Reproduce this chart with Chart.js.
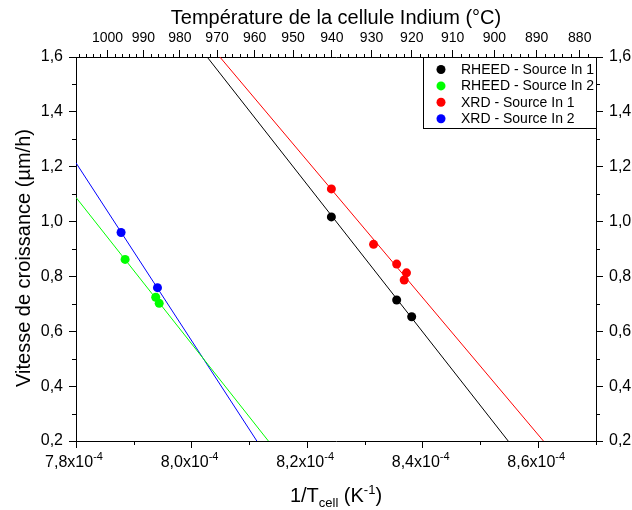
<!DOCTYPE html>
<html><head><meta charset="utf-8">
<script src="https://cdn.jsdelivr.net/npm/chart.js@4.4.1/dist/chart.umd.min.js"></script>
<style>html,body{margin:0;padding:0;background:#fff}</style>
</head><body>
<canvas id="c" width="632" height="510" style="display:block;width:632px;height:510px"></canvas>
<script>
// ---- data (x = 1/T in K^-1, y = growth rate in µm/h) ----
const seriesNames = ['RHEED - Source In 1', 'RHEED - Source In 2', 'XRD - Source In 1', 'XRD - Source In 2'];
const seriesColors = ['#000000', '#00ff00', '#ff0000', '#0000ff'];

const rheed1X = [8.242e-4, 8.355e-4, 8.381e-4];
const rheed1Y = [1.017, 0.714, 0.653];
const rheed2X = [7.885e-4, 7.938e-4, 7.944e-4];
const rheed2Y = [0.862, 0.724, 0.702];
const xrd1X = [8.242e-4, 8.315e-4, 8.355e-4, 8.372e-4, 8.368e-4];
const xrd1Y = [1.119, 0.917, 0.845, 0.813, 0.787];
const xrd2X = [7.878e-4, 7.941e-4];
const xrd2Y = [0.960, 0.759];

// fitted lines: end points
const fitRheed1X = [8.027e-4, 8.548e-4];
const fitRheed1Y = [1.6, 0.2];
const fitRheed2X = [7.8e-4, 8.133e-4];
const fitRheed2Y = [1.088, 0.2];
const fitXrd1X = [8.049e-4, 8.609e-4];
const fitXrd1Y = [1.6, 0.2];
const fitXrd2X = [7.8e-4, 8.113e-4];
const fitXrd2Y = [1.214, 0.2];

// axes
const xMin = 7.8e-4, xMax = 8.7e-4;
const yMin = 0.2, yMax = 1.6;
const xTicks = [7.8e-4, 8.0e-4, 8.2e-4, 8.4e-4, 8.6e-4];
const xMinorTicks = [7.9e-4, 8.1e-4, 8.3e-4, 8.5e-4, 8.7e-4];
const xTickLabels = ['7,8', '8,0', '8,2', '8,4', '8,6'];
const yTicks = [0.2, 0.4, 0.6, 0.8, 1.0, 1.2, 1.4, 1.6];
const yMinorTicks = [0.3, 0.5, 0.7, 0.9, 1.1, 1.3, 1.5];
const tempTicks = [1000, 990, 980, 970, 960, 950, 940, 930, 920, 910, 900, 890, 880];
const tempMinorTicks = [1008, 1006, 1004, 1002, 998, 996, 994, 992, 988, 986, 984, 982, 978, 976, 974, 972,
  968, 966, 964, 962, 958, 956, 954, 952, 948, 946, 944, 942, 938, 936, 934, 932, 928, 926, 924, 922,
  918, 916, 914, 912, 908, 906, 904, 902, 898, 896, 894, 892, 888, 886, 884, 882, 878];

const FONT = '"Liberation Sans", Arial, sans-serif';
const pts = (xs, ys) => xs.map((x, i) => ({x: x, y: ys[i]}));
const invT = T => 1 / (T + 273.15);

function fitSet(xs, ys, color) {
  return {type: 'line', data: pts(xs, ys), borderColor: color, borderWidth: 1, pointRadius: 0,
    showLine: true, fill: false, order: 2};
}
function ptSet(xs, ys, name, color) {
  return {type: 'scatter', label: name, data: pts(xs, ys), backgroundColor: color, borderColor: color,
    pointRadius: 4.5, pointHoverRadius: 4.5, borderWidth: 0, order: 1};
}

const decor = {
  id: 'decor',
  afterDraw(chart) {
    const ctx = chart.ctx, a = chart.chartArea;
    const sx = chart.scales.x, sy = chart.scales.y, sy2 = chart.scales.y2, st = chart.scales.x2;
    ctx.save();
    ctx.strokeStyle = '#000'; ctx.lineWidth = 1;
    ctx.beginPath();
    xMinorTicks.forEach(v => { const p = Math.round(sx.getPixelForValue(v)) + 0.5; ctx.moveTo(p, a.bottom); ctx.lineTo(p, a.bottom + 4); });
    yMinorTicks.forEach(v => { const p = Math.round(sy.getPixelForValue(v)) + 0.5;
      ctx.moveTo(a.left, p); ctx.lineTo(a.left - 4, p); ctx.moveTo(a.right, p); ctx.lineTo(a.right + 4, p); });
    tempMinorTicks.forEach(T => { const p = Math.round(st.getPixelForValue(invT(T))) + 0.5; ctx.moveTo(p, a.top); ctx.lineTo(p, a.top - 3); });
    ctx.stroke();

    ctx.fillStyle = '#000';
    // bottom tick labels with exponent
    xTicks.forEach((v, i) => {
      const base = xTickLabels[i] + 'x10';
      ctx.font = '16px ' + FONT;
      const w1 = ctx.measureText(base).width;
      ctx.font = '11px ' + FONT;
      const w2 = ctx.measureText('-4').width;
      const x0 = sx.getPixelForValue(v) - (w1 + w2) / 2 - 2;
      ctx.textAlign = 'left'; ctx.textBaseline = 'alphabetic';
      ctx.font = '16px ' + FONT; ctx.fillText(base, x0, a.bottom + 26);
      ctx.font = '11px ' + FONT; ctx.fillText('-4', x0 + w1, a.bottom + 19);
    });

    // titles
    ctx.font = '20px ' + FONT; ctx.textAlign = 'center'; ctx.textBaseline = 'middle';
    ctx.fillText('Température de la cellule Indium (°C)', (a.left + a.right) / 2, 18);
    ctx.save();
    ctx.translate(24, 258); ctx.rotate(-Math.PI / 2);
    ctx.fillText('Vitesse de croissance (µm/h)', 0, 0);
    ctx.restore();
    // bottom title: 1/T_cell (K^-1)
    const parts = [['1/T', 20, 0], ['cell', 13, 5], [' (K', 20, 0], ['-1', 13, -8], [')', 20, 0]];
    let tot = 0;
    parts.forEach(p => { ctx.font = p[1] + 'px ' + FONT; p.push(ctx.measureText(p[0]).width); tot += p[3]; });
    let xx = (a.left + a.right) / 2 - tot / 2;
    ctx.textAlign = 'left'; ctx.textBaseline = 'alphabetic';
    parts.forEach(p => { ctx.font = p[1] + 'px ' + FONT; ctx.fillText(p[0], xx, 502 + p[2]); xx += p[3]; });

    // legend
    const lx = 423.5, ly = a.top + 0.5, lw = a.right - 423, lh = 71;
    ctx.fillStyle = '#fff'; ctx.fillRect(lx, ly, lw, lh);
    ctx.strokeStyle = '#000'; ctx.strokeRect(lx, ly, lw, lh);
    ctx.font = '14px ' + FONT; ctx.textBaseline = 'middle'; ctx.textAlign = 'left';
    seriesNames.forEach((n, i) => {
      const yy = a.top + 12.5 + i * 16.4;
      ctx.fillStyle = seriesColors[i];
      ctx.beginPath(); ctx.arc(441, yy, 4.5, 0, Math.PI * 2); ctx.fill();
      ctx.fillStyle = '#000'; ctx.fillText(n, 461, yy + 0.5);
    });
    ctx.restore();
  }
};

const gridOpts = {drawOnChartArea: false, drawTicks: true, tickLength: 7, color: '#000', lineWidth: 1};
const borderOpts = {display: true, color: '#000', width: 1};

new Chart(document.getElementById('c'), {
  type: 'scatter',
  data: {
    datasets: [
      fitSet(fitRheed1X, fitRheed1Y, seriesColors[0]),
      fitSet(fitRheed2X, fitRheed2Y, seriesColors[1]),
      fitSet(fitXrd1X, fitXrd1Y, seriesColors[2]),
      fitSet(fitXrd2X, fitXrd2Y, seriesColors[3]),
      ptSet(rheed1X, rheed1Y, seriesNames[0], seriesColors[0]),
      ptSet(rheed2X, rheed2Y, seriesNames[1], seriesColors[1]),
      ptSet(xrd1X, xrd1Y, seriesNames[2], seriesColors[2]),
      ptSet(xrd2X, xrd2Y, seriesNames[3], seriesColors[3])
    ]
  },
  options: {
    responsive: false, animation: false, devicePixelRatio: 1,
    layout: {padding: 0},
    plugins: {legend: {display: false}, tooltip: {enabled: false}},
    scales: {
      x: {type: 'linear', position: 'bottom', min: xMin, max: xMax,
        afterBuildTicks: s => { s.ticks = xTicks.map(v => ({value: v})); },
        ticks: {display: false},
        grid: gridOpts, border: borderOpts,
        afterFit: s => { s.height = 69; }},
      x2: {type: 'linear', position: 'top', min: xMin, max: xMax,
        afterBuildTicks: s => { s.ticks = tempTicks.map(T => ({value: invT(T)})); },
        ticks: {autoSkip: false, maxRotation: 0, minRotation: 0, padding: 3, color: '#000',
          font: {family: FONT, size: 14},
          callback: (v, i) => String(tempTicks[i])},
        grid: gridOpts, border: borderOpts,
        afterFit: s => { s.height = 57; }},
      y: {type: 'linear', position: 'left', min: yMin, max: yMax,
        afterBuildTicks: s => { s.ticks = yTicks.map(v => ({value: v})); },
        ticks: {padding: 6, color: '#000', font: {family: FONT, size: 16},
          callback: v => v.toFixed(1).replace('.', ',')},
        grid: gridOpts, border: borderOpts,
        afterFit: s => { s.width = 76; }},
      y2: {type: 'linear', position: 'right', min: yMin, max: yMax,
        afterBuildTicks: s => { s.ticks = yTicks.map(v => ({value: v})); },
        ticks: {padding: 6, color: '#000', font: {family: FONT, size: 16},
          callback: v => v.toFixed(1).replace('.', ',')},
        grid: gridOpts, border: borderOpts,
        afterFit: s => { s.width = 36; }}
    }
  },
  plugins: [decor]
});
</script>
</body></html>
